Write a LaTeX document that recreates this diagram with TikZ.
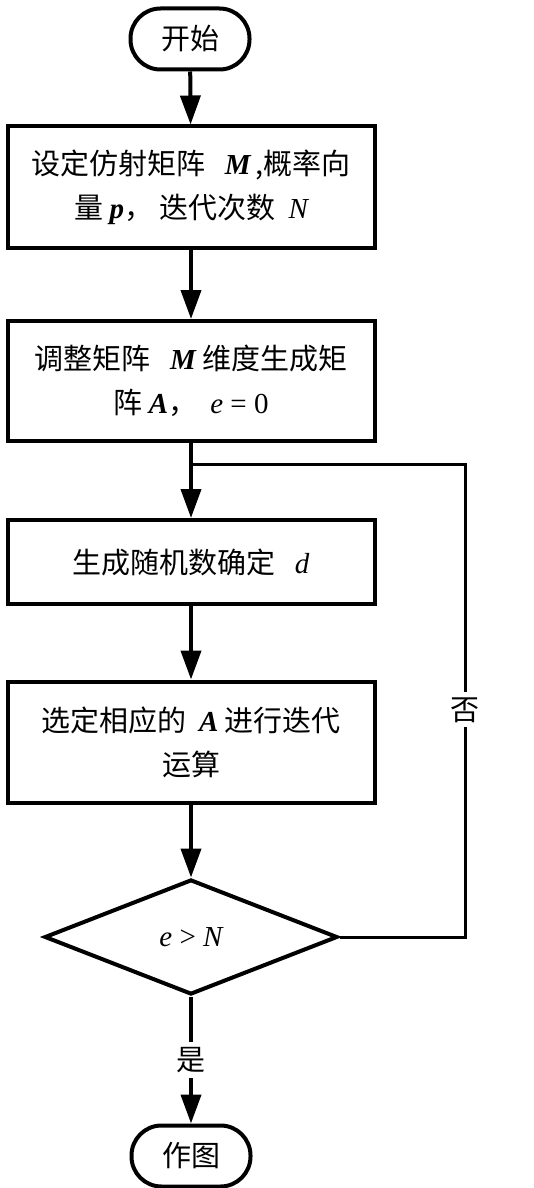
\documentclass[tikz,border=0pt]{standalone}
\usepackage{fontspec}
\setmainfont{Noto Sans CJK SC}
\newfontfamily\latfont{Liberation Serif}
\usepackage{tikz}
\usetikzlibrary{calc}
\usetikzlibrary{shapes.geometric}
\usetikzlibrary{arrows.meta}
\newcommand{\ivar}[1]{{\latfont\itshape #1}}
\newcommand{\bvar}[1]{{\latfont\bfseries\itshape #1}}

\begin{document}
\begin{tikzpicture}[x=1pt,y=-1pt,font=\fontsize{29}{44}\selectfont]
				\tikzstyle{term}=[draw,line width=4pt,rounded corners=30pt,minimum width=119pt,minimum height=61pt,inner sep=0pt]
				\tikzstyle{proc}=[draw,line width=4pt,minimum width=367pt,inner sep=0pt,align=center]
				\tikzstyle{test}=[draw,diamond,line width=4pt,minimum width=293pt,minimum height=115pt,inner sep=0pt]
				\tikzstyle{flow}=[line width=4pt,-{Triangle[length=29pt,width=20pt]}]
				\tikzstyle{back}=[line width=3pt]
				\tikzstyle{tag}=[fill=white,inner sep=5pt]

				\useasboundingbox (0,0) rectangle (533,1188);

				\node [term] (start) at (190,39) {开始};

				\node [proc,minimum height=121pt] (set) at (191,187) {设定仿射矩阵\ \ \ \bvar{M}\,,概率向\\量 \bvar{p}，\ 迭代次数\ \ \ivar{N}};
				\node [proc,minimum height=120pt] (adjust) at (191,381) {调整矩阵\ \ \ \bvar{M} 维度生成矩\\阵 \bvar{A}，\ \ {\latfont\ivar{e} = 0}};
				\node [proc,minimum height=84pt] (rand) at (191,562) {生成随机数确定\ \ \ \ivar{d}};
				\node [proc,minimum height=121pt] (iter) at (191,742) {选定相应的\ \ \bvar{A} 进行迭代\\运算};

				\node [test] (check) at (191,937) {{\latfont\ivar{e} > \ivar{N}}};

				\node [term] (stop) at (191,1156) {作图};

				\coordinate (join) at (191,464);
				\coordinate (turn) at (465,464);

				\draw[flow] (start) -- (set);
				\draw[flow] (set) -- (adjust);
				\draw[flow] (adjust) -- (rand);
				\draw[flow] (rand) -- (iter);
				\draw[flow] (iter) -- (check);
				\draw[flow] (check) -- node[tag] {是} (stop);

				\draw[back] (check.east) -| node[tag,pos=0.74] {否} (turn) -- (join);

\end{tikzpicture}
\end{document}
